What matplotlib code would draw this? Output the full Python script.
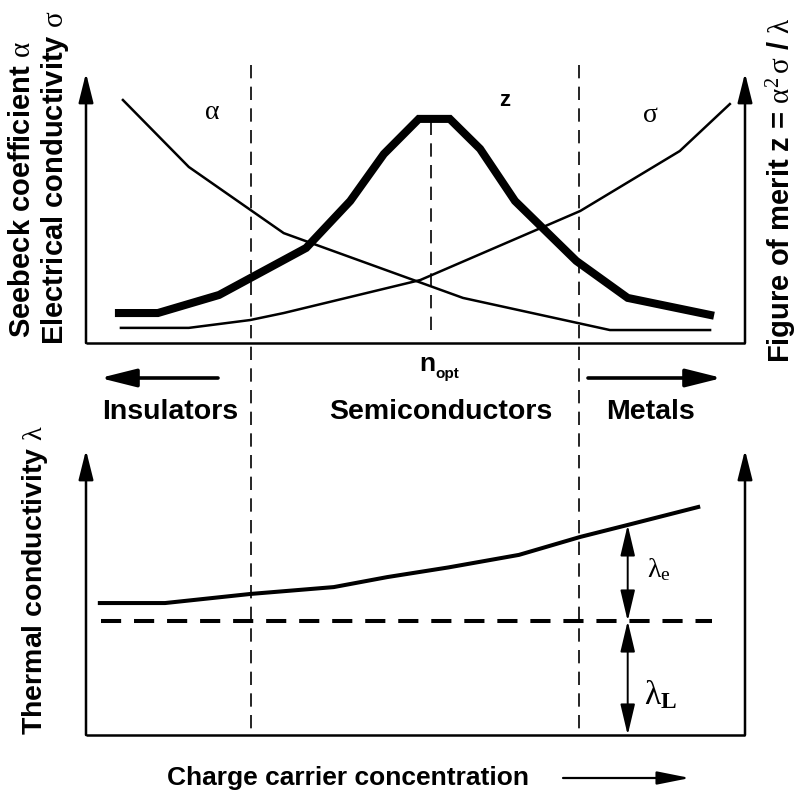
import matplotlib
matplotlib.use("Agg")
import matplotlib.pyplot as plt
from matplotlib import transforms

plt.rcParams["font.family"] = ["Liberation Sans", "DejaVu Sans"]
plt.rcParams["mathtext.fontset"] = "custom"
plt.rcParams["mathtext.rm"] = "Liberation Serif"
plt.rcParams["mathtext.it"] = "Liberation Serif"
plt.rcParams["mathtext.bf"] = "Liberation Serif:bold"
plt.rcParams["mathtext.default"] = "rm"

# Carrier concentration on a 0-100 arbitrary scale, property levels 0-100
alpha_x = [5.6, 15.6, 30.0, 57.2, 79.5, 94.7]
alpha_y = [90.0, 65.2, 40.7, 16.7, 4.8, 4.8]
sigma_x = [5.3, 15.6, 24.9, 30.0, 50.7, 75.0, 90.1, 97.7]
sigma_y = [5.6, 5.6, 8.5, 11.1, 23.3, 48.9, 71.1, 88.5]
z_x = [5.0, 10.9, 20.2, 33.4, 40.1, 45.2, 50.5, 55.2, 59.8, 65.1, 74.4, 82.2, 94.7]
z_y = [11.1, 11.1, 17.8, 35.2, 52.6, 70.0, 83.0, 83.0, 71.9, 52.6, 30.4, 16.7, 10.4]

lam_x = [2.1, 12.0, 25.0, 37.6, 45.7, 55.0, 65.7, 75.0, 82.2, 92.9]
lam_y = [46.3, 46.3, 49.5, 51.9, 55.4, 58.8, 63.2, 69.5, 73.7, 80.0]
lam_lattice = 40.0
lattice_x = [2.3, 95.0]
split_idx = 8          # point of the lambda curve where the split is marked

boundaries = [25.0, 74.8]   # insulator | semiconductor | metal
n_opt = 52.4
alpha_floor = 4.8

regions = ["Insulators", "Semiconductors", "Metals"]

W, H = 800, 799
fig = plt.figure(figsize=(W / 100, H / 100), dpi=100)


def rect(x0, y_top, x1, y_bot):
    return [x0 / W, 1 - y_bot / H, (x1 - x0) / W, (y_bot - y_top) / H]


ax_top = fig.add_axes(rect(86, 73, 745, 343))
ax_bot = fig.add_axes(rect(86, 450, 745, 735))
ov = fig.add_axes([0, 0, 1, 1], zorder=-1)
ov.set_xlim(0, W)
ov.set_ylim(H, 0)
ov.axis("off")

AX_LW = 1.8


def frame(ax):
    ax.set_xlim(0, 100)
    ax.set_ylim(0, 100)
    ax.axis("off")
    ax.plot([0, 100], [0, 0], color="k", lw=AX_LW, clip_on=False,
            solid_capstyle="butt")
    for x in (0, 100):
        ax.annotate("", xy=(x, 100), xytext=(x, 0),
                    arrowprops=dict(arrowstyle="-|>,head_length=1.8,head_width=0.45",
                                    lw=AX_LW, color="k", shrinkA=0, shrinkB=0,
                                    mutation_scale=10),
                    annotation_clip=False)


frame(ax_top)
frame(ax_bot)

# upper panel: Seebeck coefficient, conductivity and figure of merit
ax_top.plot(alpha_x, alpha_y, color="k", lw=1.8, clip_on=False)
ax_top.plot(sigma_x, sigma_y, color="k", lw=1.8, clip_on=False)
ax_top.plot(z_x, z_y, color="k", lw=5.8, clip_on=False, solid_joinstyle="miter")
ax_top.plot([n_opt, n_opt], [alpha_floor, max(z_y)], color="k", lw=1.2,
            ls=(0, (8, 5)))

# lower panel: thermal conductivity
ax_bot.plot(lam_x, lam_y, color="k", lw=2.9, clip_on=False)
ax_bot.plot(lattice_x, [lam_lattice, lam_lattice], color="k", lw=2.9,
            ls=(0, (5, 3.2)))
xs = lam_x[split_idx]
dbl = dict(arrowstyle="<|-|>,head_length=1.9,head_width=0.45", lw=1.4,
           color="k", shrinkA=0, shrinkB=0, mutation_scale=10)
ax_bot.annotate("", xy=(xs, lam_y[split_idx]), xytext=(xs, lam_lattice),
                arrowprops=dbl)
ax_bot.annotate("", xy=(xs, lam_lattice), xytext=(xs, 0), arrowprops=dbl)

# region boundaries run through both panels
trans = transforms.blended_transform_factory(ax_top.transData, ov.transData)
for b in boundaries:
    ov.plot([b, b], [65, 735], transform=trans, color="k", lw=1.2,
            ls=(0, (8, 5)))

# curve labels
ov.text(212, 112, r"$\alpha$", fontsize=20, ha="center", va="center")
ov.text(505, 100, "z", fontsize=16, fontweight="bold", ha="center", va="center")
ov.text(650, 115, r"$\sigma$", fontsize=20, ha="center", va="center")

# region labels
ov.text(427, 364, "n", fontsize=19, fontweight="bold", ha="center", va="center")
ov.text(447, 374, "opt", fontsize=11, fontweight="bold", ha="center", va="center")
for name, xc in zip(regions, [170, 441, 650]):
    ov.text(xc, 412, name, fontsize=20.5, fontweight="bold", ha="center",
            va="center")
side = dict(arrowstyle="-|>,head_length=2.2,head_width=0.55", lw=2.6,
            color="k", shrinkA=0, shrinkB=0, mutation_scale=10)
ov.annotate("", xy=(100, 378), xytext=(218, 378), arrowprops=side)
ov.annotate("", xy=(722, 378), xytext=(588, 378), arrowprops=side)

# axis titles
ov.text(22, 190, r"Seebeck coefficient $\alpha$", rotation=90, fontsize=21,
        fontweight="bold", ha="center", va="center")
ov.text(55, 178, r"Electrical conductivity $\sigma$", rotation=90, fontsize=21,
        fontweight="bold", ha="center", va="center")
ov.text(35, 580, r"Thermal conductivity $\lambda$", rotation=90, fontsize=20.5,
        fontweight="bold", ha="center", va="center")
ov.text(782, 190, r"Figure of merit z = $\alpha^{2}\,\sigma$ / $\lambda$",
        rotation=90, fontsize=21, fontweight="bold", ha="center", va="center")
ov.text(348, 778, "Charge carrier concentration", fontsize=19,
        fontweight="bold", ha="center", va="center")
ov.annotate("", xy=(690, 778), xytext=(563, 778),
            arrowprops=dict(arrowstyle="-|>,head_length=2.0,head_width=0.4",
                            lw=1.6, color="k", shrinkA=0, shrinkB=0,
                            mutation_scale=10))

# thermal conductivity parts
ov.text(659, 570, r"$\lambda_{\rm e}$", fontsize=20, ha="center", va="center")
ov.text(661, 695, r"$\lambda_{\mathbf{L}}$", fontsize=24, ha="center",
        va="center")

fig.savefig("out.png", dpi=100, facecolor="white")
